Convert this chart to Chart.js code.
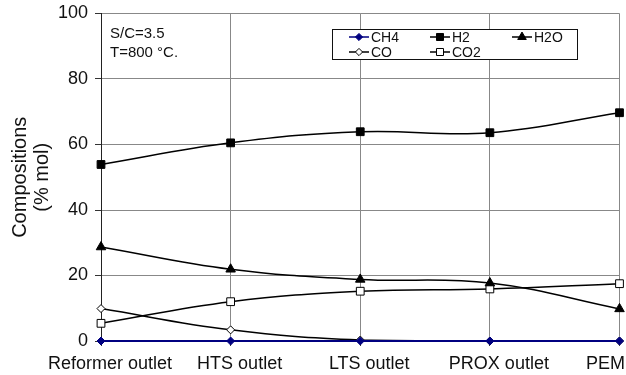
<!DOCTYPE html>
<html>
<head>
<meta charset="utf-8">
<script src="https://cdn.jsdelivr.net/npm/chart.js@4.4.1/dist/chart.umd.min.js"></script>
<style>
  html, body { margin: 0; padding: 0; background: #fff; overflow: hidden; }
</style>
</head>
<body>
<canvas id="compChart" width="626" height="375"></canvas>
<script>
const stages = ['Reformer outlet', 'HTS outlet', 'LTS outlet', 'PROX outlet', 'PEM'];
const ch4 = [0, 0, 0, 0, 0];
const h2 = [53.9, 60.5, 63.9, 63.6, 69.7];
const h2o = [28.7, 21.9, 18.8, 17.7, 9.8];
const co = [9.9, 3.4, 0.3, 0, 0];
const co2 = [5.4, 12.0, 15.2, 15.9, 17.5];
const yTicks = [0, 20, 40, 60, 80, 100];
const notes = ['S/C=3.5', 'T=800 °C.'];

const FONT = '"Liberation Sans", Arial, Helvetica, sans-serif';

function series(label, data, color, style, radius, fillColor, width) {
        return {
                label: label,
                data: data,
                borderColor: color,
                backgroundColor: fillColor,
                borderWidth: width,
                pointStyle: style,
                pointRadius: radius,
                pointBorderColor: color,
                pointBackgroundColor: fillColor,
                pointBorderWidth: 1,
                tension: 0.4,
                fill: false,
                clip: false
        };
}

// legend box drawn inside the plot, like the original
const boxLegend = {
        id: 'boxLegend',
        afterDraw(chart) {
                const ctx = chart.ctx;
                const sets = chart.data.datasets;
                ctx.save();
                ctx.fillStyle = '#fff';
                ctx.fillRect(332, 29, 246, 31);
                ctx.strokeStyle = '#111';
                ctx.lineWidth = 1;
                ctx.strokeRect(332.5, 29.5, 245, 30);
                const cols = [349, 430, 512];
                const rows = [37, 52];
                ctx.font = '14px ' + FONT;
                ctx.textBaseline = 'middle';
                sets.forEach((ds, i) => {
                        const x = cols[i % 3];
                        const y = rows[Math.floor(i / 3)];
                        ctx.strokeStyle = ds.borderColor;
                        ctx.lineWidth = 1.5;
                        ctx.beginPath();
                        ctx.moveTo(x, y);
                        ctx.lineTo(x + 20, y);
                        ctx.stroke();
                        ctx.fillStyle = ds.pointBackgroundColor;
                        ctx.strokeStyle = ds.pointBorderColor;
                        ctx.lineWidth = 1;
                        Chart.helpers.drawPoint(ctx, {
                                pointStyle: ds.pointStyle,
                                radius: ds.pointRadius * 0.9,
                                rotation: 0,
                                borderWidth: 1
                        }, x + 10, y);
                        ctx.fillStyle = '#111';
                        ctx.textAlign = 'left';
                        ctx.fillText(ds.label, x + 22, y + 1);
                });
                // conditions note, upper left
                ctx.font = '15px ' + FONT;
                ctx.fillText(notes[0], 110, 34);
                ctx.fillText(notes[1], 110, 53);
                ctx.restore();
        }
};

// category labels: kept inside the canvas at the right edge
const stageLabels = {
        id: 'stageLabels',
        afterDraw(chart) {
                const ctx = chart.ctx;
                const xs = chart.scales.x;
                ctx.save();
                ctx.font = '18px ' + FONT;
                ctx.fillStyle = '#111';
                ctx.textAlign = 'center';
                ctx.textBaseline = 'alphabetic';
                stages.forEach((lab, i) => {
                        const w = ctx.measureText(lab).width;
                        let x = xs.getPixelForTick(i) + 9;
                        if (x + w / 2 > chart.width - 1) x = chart.width - 1 - w / 2;
                        ctx.fillText(lab, x, 369);
                });
                ctx.restore();
        }
};

const data = {
        labels: stages,
        datasets: [
                series('CH4', ch4, '#000080', 'rectRot', 4, '#000080', 2),
                series('H2', h2, '#000', 'rect', 5.5, '#000', 1.5),
                series('H2O', h2o, '#000', 'triangle', 5.5, '#000', 1.5),
                series('CO', co, '#000', 'rectRot', 4, '#fff', 1.5),
                series('CO2', co2, '#000', 'rect', 5.5, '#fff', 1.5)
        ]
};

const config = {
        type: 'line',
        data: data,
        plugins: [boxLegend, stageLabels],
        options: {
                responsive: false,
                animation: false,
                devicePixelRatio: 1,
                layout: { padding: { left: 0, top: 13.5, right: 3, bottom: 0 } },
                plugins: {
                        legend: { display: false },
                        tooltip: { enabled: false }
                },
                scales: {
                        x: {
                                type: 'category',
                                offset: false,
                                grid: { color: '#888', lineWidth: 1, tickLength: 5, tickColor: '#333' },
                                border: { display: true, color: '#000', width: 1.5 },
                                ticks: { display: false },
                                afterFit: function (s) {
                                        s.height = 34;
                                        s.paddingLeft = 0;
                                        s.paddingRight = 0;
                                }
                        },
                        y: {
                                min: 0,
                                max: 100,
                                afterBuildTicks: function (s) {
                                        s.ticks = yTicks.map(v => ({ value: v }));
                                },
                                grid: { color: '#888', lineWidth: 1, tickLength: 6, tickColor: '#333' },
                                border: { display: true, color: '#222', width: 1 },
                                ticks: {
                                        color: '#111',
                                        padding: 7,
                                        font: { family: FONT, size: 18 }
                                },
                                title: {
                                        display: true,
                                        text: ['Compositions', '(% mol)'],
                                        color: '#111',
                                        padding: { top: 9, bottom: 0 },
                                        font: { family: FONT, size: 20, lineHeight: 1.1 }
                                },
                                afterFit: function (s) {
                                        s.width = 101;
                                        s.paddingTop = 0;
                                        s.paddingBottom = 0;
                                }
                        }
                }
        }
};

const compChart = new Chart(document.getElementById('compChart').getContext('2d'), config);
</script>
</body>
</html>
